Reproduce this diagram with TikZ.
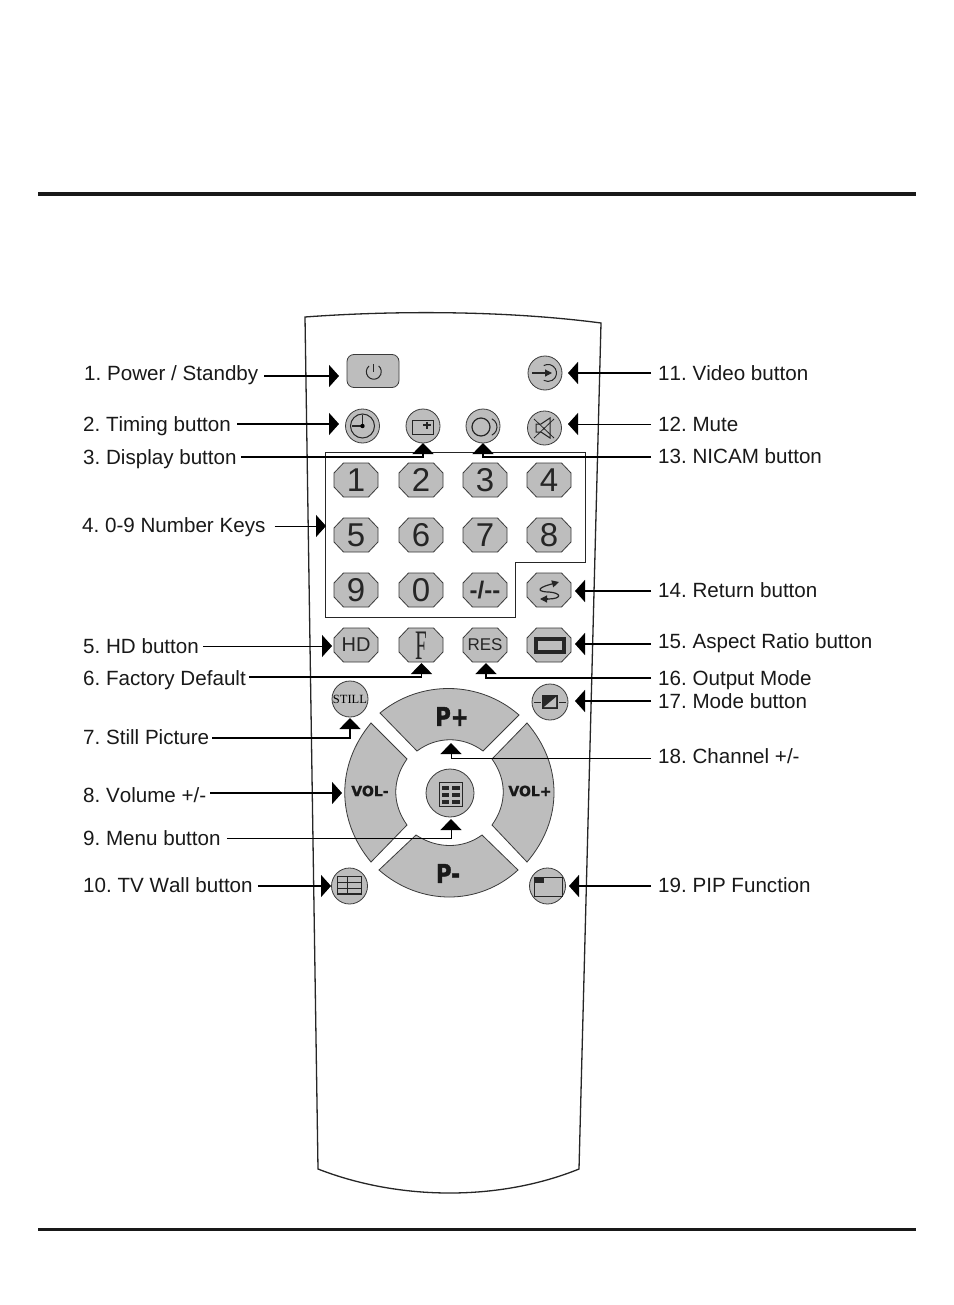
\documentclass[tikz,border=0pt]{standalone}
\usepackage{graphicx}
\usepackage{fontspec}
\setmainfont{Liberation Sans}[Kerning=Off]
\newfontfamily\heavyfont{DejaVu Sans Bold}[FakeBold=1.5]
\newfontfamily\romanfont{Liberation Serif}
\usetikzlibrary{arrows.meta}
\definecolor{keygray}{HTML}{BDBDBD}
\definecolor{keyline}{HTML}{3A3A3A}
\newcommand{\octkey}[2]{\draw[seg] (#1,#2) ++(-22,-7) -- ++(9.5,-10) -- ++(25,0) -- ++(9.5,10)
    -- ++(0,14) -- ++(-9.5,10) -- ++(-25,0) -- ++(-9.5,-10) -- cycle;}
\tikzset{
    lab/.style={anchor=base west, inner sep=0pt, text height=15pt, text depth=5pt,
        font=\fontsize{20.6}{21}\selectfont\frenchspacing, text=black!90},
    lead/.style={line width=1.6pt, -{Triangle[length=10pt, width=22pt]}},
    leadthin/.style={line width=0.9pt, -{Triangle[length=10pt, width=22pt]}},
    leadup/.style={line width=1.6pt, -{Triangle[length=11pt, width=21pt]}},
    leadupthin/.style={line width=0.9pt, -{Triangle[length=11pt, width=21pt]}},
    key/.style={inner sep=0pt, minimum width=44pt, minimum height=34pt,
        font=\fontsize{33}{33}\selectfont, text=black!85},
    rnd/.style={circle, draw=keyline, fill=keygray, line width=0.8pt, minimum size=34pt, inner sep=0pt},
    seg/.style={draw=keyline, fill=keygray, line width=0.8pt},
    wheeltxt/.style={inner sep=0pt, font=\heavyfont\fontsize{#1}{#1}\selectfont, text=black!90},
    icon/.style={line width=1pt, black!85},
}
\begin{document}
\begin{tikzpicture}[x=1pt, y=-1pt]
    \useasboundingbox (0,0) rectangle (953,1305);
    \fill[white] (0,0) rectangle (953,1305);

    % rules
    \draw[line width=4pt, black!90] (38,194) -- (916,194);
    \draw[line width=3pt, black!90] (38,1229) -- (916,1229);

    % body
    \draw[line width=1.3pt, black!85] (305,317) .. controls (400,310) and (510,311) .. (601,323)
        -- (579,1169) .. controls (500,1201) and (400,1201) .. (318,1169) -- cycle;

    % number block frame
    \draw[line width=1pt, black!85] (325,452) -- (585,452) -- (585,562) -- (515,562)
        -- (515,617) -- (325,617) -- cycle;

    % wheel
    \draw[seg] (380,713) .. controls (420,680) and (479,680) .. (519,715)
        -- (483,751) .. controls (463,736) and (437,736) .. (417,751) -- cycle;
    \draw[seg] (379,870) .. controls (420,906) and (479,906) .. (518,870)
        -- (482,835) .. controls (463,849) and (437,849) .. (416,835) -- cycle;
    \draw[seg] (371,723) .. controls (336,765) and (336,820) .. (371,862)
        -- (407,825) .. controls (392,804) and (392,780) .. (407,759) -- cycle;
    \draw[seg] (527,723) .. controls (563,765) and (563,820) .. (527,862)
        -- (492,825) .. controls (507,804) and (507,780) .. (492,759) -- cycle;
    \node[wheeltxt=26] (pplus) at (452,716.5) {\scalebox{0.82}[1]{P+}};
    \node[wheeltxt=26] (pminus) at (448,873.5) {\scalebox{0.82}[1]{P-}};
    \node[wheeltxt=14] (volminus) at (370,791) {VOL-};
    \node[wheeltxt=14] (volplus) at (530,791) {VOL+};

    % number keys
    \foreach \name/\txt/\px/\py in {one/1/356/480, two/2/421/480, three/3/485/480, four/4/549/480,
        five/5/356/535, six/6/421/535, seven/7/485/535, eight/8/549/535,
        nine/9/356/590, zero/0/421/590} {
        \octkey{\px}{\py}
        \node[key] (\name) at (\px,\py) {\txt};
    }
    \octkey{485}{590}
    \node[key, font=\fontsize{24}{24}\selectfont\bfseries] (dash) at (485,590) {-/-{}-};
    \octkey{549}{590}
    \node[key] (ret) at (549,590) {};
    \octkey{356}{645}
    \node[key, font=\fontsize{20}{20}\selectfont] (hd) at (356,645) {HD};
    \octkey{421}{645}
    \node[key, font=\romanfont\fontsize{42}{42}\selectfont] (fac) at (421,646) {\scalebox{0.5}[1]{F}};
    \octkey{485}{645}
    \node[key, font=\fontsize{17}{17}\selectfont] (res) at (485,645) {RES};
    \octkey{549}{645}
    \node[key] (asp) at (549,645) {};

    % round buttons
    \node[draw=keyline, fill=keygray, line width=0.8pt, rounded corners=7pt, minimum width=52pt,
        minimum height=33pt, inner sep=0pt] (power) at (373,371) {};
    \node[rnd] (video) at (545,373) {};
    \node[rnd] (timing) at (362.5,426) {};
    \node[rnd] (disp) at (423,426) {};
    \node[rnd] (nicam) at (483,426) {};
    \node[rnd] (mute) at (544.5,428) {};
    \node[rnd, minimum size=36pt, font=\romanfont\fontsize{12.5}{13}\selectfont] (still) at (350,699) {STILL};
    \node[rnd, minimum size=36pt] (mode) at (550,702) {};
    \node[rnd, minimum size=48pt] (menu) at (450,793) {};
    \node[rnd, minimum size=36pt] (wall) at (349.5,886) {};
    \node[rnd, minimum size=36pt] (pip) at (547.5,886) {};

    % icons
    \draw[icon] (373.5,364) -- (373.5,372);
    \draw[icon] (369,366) arc[start angle=230, end angle=-50, radius=7.5];
    \draw[icon, line width=1.2pt, -{Triangle[length=7pt, width=7pt]}] (532,373) -- (552,373);
    \draw[icon] (543.75,365.6) arc[start angle=-120, end angle=120, radius=8.5];
    \draw[icon] (362.5,426) circle (12);
    \draw[icon, line width=1.5pt] (352,426) -- (362.5,426) -- (362.5,415);
    \fill (362.5,426) circle (2.2);
    \draw[icon] (412,420) rectangle (433,434);
    \draw[icon, line width=1.6pt] (423,425) -- (431,425) (427,421.5) -- (427,429);
    \draw[icon, line width=1.2pt] (481,427) circle (9);
    \draw[icon] (491.8,418.8) arc[start angle=-65, end angle=65, radius=9];
    \draw[icon] (536,424) -- (541,424) -- (550,418) -- (550,438) -- (541,432) -- (536,432) -- cycle;
    \draw[icon, line width=0.8pt] (534,419) -- (554,438) (534,438) -- (554,419);
    \draw[icon, line width=1.2pt, -{Triangle[length=7pt, width=7pt]}] (550,584.5) -- (559,582);
    \draw[icon, line width=1.2pt] (550,584.5) .. controls (534,589) and (540,592) .. (549,592)
        .. controls (562,593) and (562,599) .. (548,599);
    \draw[icon, line width=1.2pt, -{Triangle[length=7pt, width=7pt]}] (548,599) -- (540,599);
    \draw[icon, line width=4pt] (536,639) rectangle (564,652);
    \fill[black!85] (542,695) rectangle (558,709);
    \fill[keygray] (544,707) -- (556,697) -- (556,707) -- cycle;
    \draw[icon, line width=0.6pt] (534,702) -- (541,702) (559,702) -- (566,702);
    \draw[icon, line width=1pt] (439,782) rectangle (462,806);
    \foreach \py in {786,793,800} {
        \fill[black!85] (441.5,\py) rectangle (449,\py+3.5);
        \fill[black!85] (452,\py) rectangle (459.5,\py+3.5);
    }
    \draw[icon, line width=1.3pt] (337.5,876.5) rectangle (361.5,894);
    \draw[icon, line width=1pt] (337.5,882) -- (361.5,882) (337.5,888) -- (361.5,888) (347,876.5) -- (347,894);
    \draw[icon, line width=1pt] (534,877) rectangle (562,896);
    \fill[black!85] (534,877) rectangle (544,883);

    % labels, left side
    \node[lab] (lpower) at (84,380) {1. Power / Standby};
    \node[lab] (ltiming) at (83,431.7) {2. Timing button};
    \node[lab] (ldisp) at (83,464) {3. Display button};
    \node[lab] (lkeys) at (82,532.7) {4. 0-9 Number Keys};
    \node[lab] (lhd) at (83,653) {5. HD button};
    \node[lab] (lfac) at (83,685) {6. Factory Default};
    \node[lab] (lstill) at (83,744) {7. Still Picture};
    \node[lab] (lvol) at (83,802) {8. Volume +/-};
    \node[lab] (lmenu) at (83,845) {9. Menu button};
    \node[lab] (lwall) at (83,892) {10. TV Wall button};

    % labels, right side
    \node[lab] (lvideo) at (658,380) {11. Video button};
    \node[lab] (lmute) at (658,431) {12. Mute};
    \node[lab] (lnicam) at (658,463) {13. NICAM button};
    \node[lab] (lret) at (658,597) {14. Return button};
    \node[lab] (lasp) at (658,648) {15. Aspect Ratio button};
    \node[lab] (lres) at (658,685) {16. Output Mode};
    \node[lab] (lmode) at (658,708) {17. Mode button};
    \node[lab] (lchan) at (658,763) {18. Channel +/-};
    \node[lab] (lpip) at (658,892) {19. PIP Function};

    % arrow tips
    \coordinate (tpower) at (339,376);
    \coordinate (ttiming) at (339,424);
    \coordinate (tdisp) at (423,443);
    \coordinate (tkeys) at (326,526);
    \coordinate (thd) at (332,646);
    \coordinate (tfac) at (421.5,663);
    \coordinate (tstill) at (350,718);
    \coordinate (tvol) at (342,793);
    \coordinate (tmenu) at (451,819);
    \coordinate (twall) at (331,886);
    \coordinate (tvideo) at (568,373);
    \coordinate (tmute) at (568,424);
    \coordinate (tnicam) at (483,443);
    \coordinate (tret) at (575,591);
    \coordinate (tasp) at (575,644);
    \coordinate (tres) at (486,663);
    \coordinate (tmode) at (575,701);
    \coordinate (tchan) at (451,743);
    \coordinate (tpip) at (569,886);

    % connectors
    \draw[lead] (lpower.east) ++(6,1) -- (tpower);
    \draw[lead] (ltiming.east) ++(6,-2.7) -- (ttiming);
    \draw[leadup] (ldisp.east) ++(4,-2) -| (tdisp);
    \draw[leadthin] (lkeys.east) ++(9,-1.7) -- (tkeys);
    \draw[leadthin] (lhd.east) ++(4,-2) -- (thd);
    \draw[leadup] (lfac.east) ++(3,-3) -| (tfac);
    \draw[leadup] (lstill.east) ++(3,-1) -| (tstill);
    \draw[lead] (lvol.east) ++(4,-4) -- (tvol);
    \draw[leadupthin] (lmenu.east) ++(6,-2) -| (tmenu);
    \draw[lead] (lwall.east) ++(5,-1) -- (twall);
    \draw[lead] (lvideo.west) ++(-7,-2) -- (tvideo);
    \draw[leadthin] (lmute.west) ++(-7,-2) -- (tmute);
    \draw[leadup] (lnicam.west) ++(-7,-1) -| (tnicam);
    \draw[lead] (lret.west) ++(-7,-1) -- (tret);
    \draw[lead] (lasp.west) ++(-7,1) -- (tasp);
    \draw[leadup] (lres.west) ++(-7,-2) -| (tres);
    \draw[lead] (lmode.west) ++(-7,-2) -- (tmode);
    \draw[leadupthin] (lchan.west) ++(-7,0) -| (tchan);
    \draw[lead] (lpip.west) ++(-7,-1) -- (tpip);
\end{tikzpicture}
\end{document}
